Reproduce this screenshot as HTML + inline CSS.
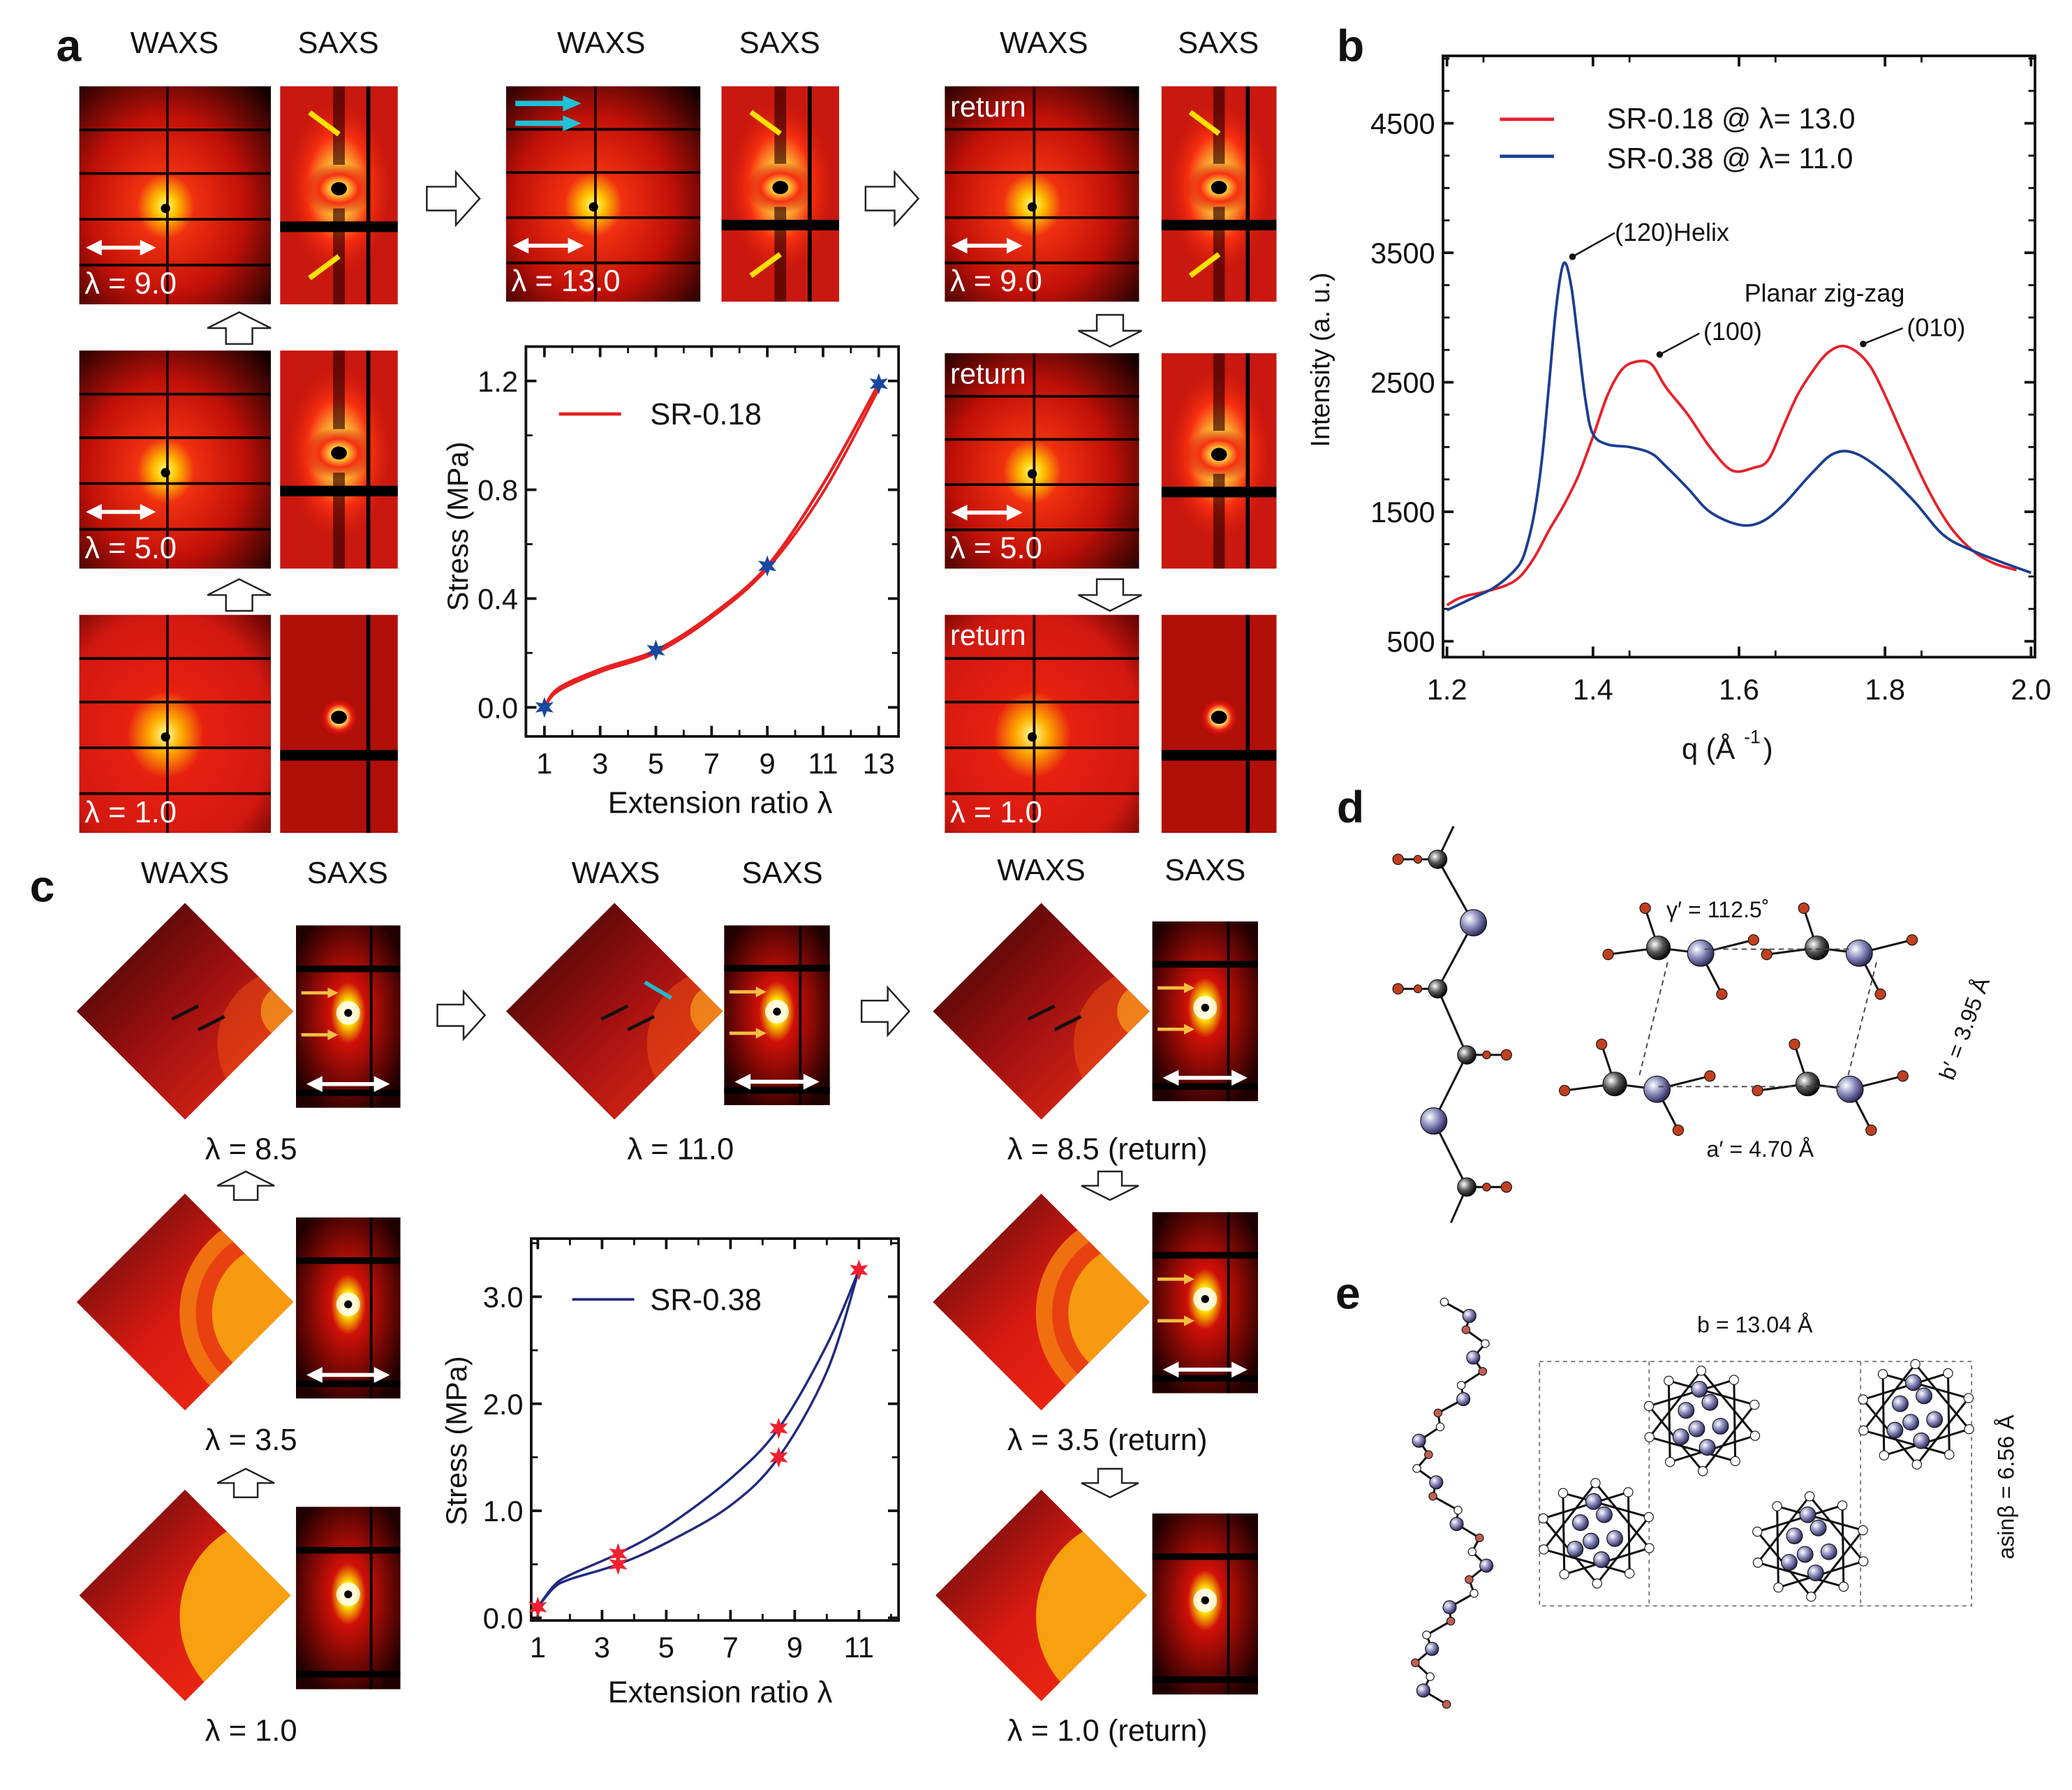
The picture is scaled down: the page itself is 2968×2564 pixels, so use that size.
<!DOCTYPE html>
<html><head><meta charset="utf-8"><style>
html,body{margin:0;padding:0;background:#fff}
svg{display:block}
text{font-family:"Liberation Sans","DejaVu Sans",sans-serif}
</style></head><body>
<svg id="fig" xmlns="http://www.w3.org/2000/svg" width="2968" height="2564" viewBox="0 0 1568 1354">
<defs>
<radialGradient id="gW" cx="0.45" cy="0.55" r="0.75"><stop offset="0" stop-color="#ffff80"/><stop offset="0.08" stop-color="#ffc000"/><stop offset="0.2" stop-color="#f03010"/><stop offset="0.55" stop-color="#c01008"/><stop offset="1" stop-color="#100000"/></radialGradient>
<radialGradient id="gW1" cx="0.45" cy="0.55" r="0.8"><stop offset="0" stop-color="#ffffa0"/><stop offset="0.1" stop-color="#ffb000"/><stop offset="0.25" stop-color="#e82010"/><stop offset="0.7" stop-color="#d01810"/><stop offset="1" stop-color="#500000"/></radialGradient>
<radialGradient id="gS" cx="0.5" cy="0.5" r="0.5"><stop offset="0" stop-color="#ffffd0"/><stop offset="0.2" stop-color="#ffe040"/><stop offset="0.55" stop-color="#f83010"/><stop offset="1" stop-color="#c01008" stop-opacity="0"/></radialGradient>
<radialGradient id="gS1" cx="0.5" cy="0.5" r="0.5"><stop offset="0" stop-color="#fff"/><stop offset="0.35" stop-color="#ffe060"/><stop offset="0.6" stop-color="#f02010"/><stop offset="1" stop-color="#a00000" stop-opacity="0"/></radialGradient>
<linearGradient id="gD" x1="0" y1="0" x2="1" y2="1"><stop offset="0" stop-color="#2a0404"/><stop offset="0.5" stop-color="#a01010"/><stop offset="1" stop-color="#f03018"/></linearGradient>
<linearGradient id="gD1" x1="0" y1="0" x2="1" y2="1"><stop offset="0" stop-color="#4a0808"/><stop offset="0.5" stop-color="#d81a12"/><stop offset="1" stop-color="#f83010"/></linearGradient>
<radialGradient id="gSaxs" cx="0.5" cy="0.48" r="0.6"><stop offset="0" stop-color="#ffffff"/><stop offset="0.12" stop-color="#ffe000"/><stop offset="0.28" stop-color="#d01008"/><stop offset="1" stop-color="#200000"/></radialGradient>
<radialGradient id="gAtomB" cx="0.35" cy="0.35" r="0.7"><stop offset="0" stop-color="#fff"/><stop offset="0.5" stop-color="#8888bb"/><stop offset="1" stop-color="#202050"/></radialGradient>
<radialGradient id="gAtomK" cx="0.35" cy="0.35" r="0.7"><stop offset="0" stop-color="#fff"/><stop offset="0.5" stop-color="#555"/><stop offset="1" stop-color="#000"/></radialGradient>
</defs>
<g id="panels"></g>
<g id="chartA"></g>
<g id="chartC"></g>
<g id="chartB"></g>
<g id="mol"></g>
</svg>
<script>
// ---- Chart a data ----
const aLoadX=[1,1.5,3,5,7,9,11,13];
const aLoadY=[0,0.07,0.14,0.21,0.34,0.52,0.82,1.19];
const aRetX=[13,11,9,7,5,3,1.5,1];
const aRetY=[1.17,0.79,0.51,0.33,0.2,0.13,0.06,0];
const aMarkX=[1,5,9,13];
const aMarkY=[0,0.21,0.52,1.19];
const aXTicks=[1,3,5,7,9,11,13];
const aYTicks=[0,0.4,0.8,1.2];
const aYLabels=["0.0","0.4","0.8","1.2"];
// ---- Chart c data ----
const cUpX=[1,1.5,2,3.5,5,7,8.5,10,11];
const cUpY=[0.1,0.3,0.4,0.6,0.85,1.3,1.77,2.55,3.25];
const cLoX=[11,10,8.5,7,5,3.5,2,1.5,1];
const cLoY=[3.25,2.3,1.5,1.05,0.7,0.5,0.36,0.28,0.1];
const cMarkX=[1,3.5,3.5,8.5,8.5,11];
const cMarkY=[0.1,0.6,0.5,1.77,1.5,3.25];
const cXTicks=[1,3,5,7,9,11];
const cYTicks=[0,1,2,3];
const cYLabels=["0.0","1.0","2.0","3.0"];
// ---- Chart b data ----
const bRedQ=[1.2,1.22,1.25,1.28,1.3,1.32,1.34,1.36,1.38,1.4,1.42,1.44,1.46,1.48,1.5,1.53,1.56,1.59,1.62,1.64,1.66,1.68,1.7,1.72,1.74,1.76,1.78,1.8,1.83,1.86,1.89,1.92,1.95,1.98];
const bRedI=[780,840,880,930,1000,1150,1360,1550,1780,2080,2400,2600,2660,2640,2460,2250,2000,1820,1840,1900,2150,2400,2580,2720,2780,2740,2620,2400,2020,1660,1380,1200,1100,1050];
const bBlueQ=[1.2,1.23,1.26,1.28,1.3,1.31,1.32,1.33,1.34,1.35,1.36,1.37,1.38,1.39,1.4,1.42,1.45,1.48,1.5,1.53,1.56,1.6,1.63,1.66,1.7,1.73,1.76,1.8,1.84,1.88,1.92,1.96,2.0];
const bBlueI=[740,820,900,980,1100,1250,1500,1900,2500,3100,3420,3250,2800,2350,2100,2020,2000,1950,1850,1680,1500,1400,1420,1550,1800,1950,1950,1800,1580,1320,1200,1110,1030];
const bXTicks=[1.2,1.4,1.6,1.8,2.0];
const bXLabels=["1.2","1.4","1.6","1.8","2.0"];
const bYTicks=[500,1500,2500,3500,4500];

const NS="http://www.w3.org/2000/svg";
function el(tag,attrs,parent,txt){const e=document.createElementNS(NS,tag);for(const k in attrs)e.setAttribute(k,attrs[k]);if(txt!==undefined)e.textContent=txt;parent.appendChild(e);return e;}
const P=document.getElementById('panels');

function txt(x,y,s,size,parent,name,anchor,weight,fill){const t=el('text',{x:x,y:y,'font-size':size,'text-anchor':anchor||'middle','font-weight':weight||'normal',fill:fill||'#111'},parent,s);

return t;}

txt(52,46,'a',34,P,'panel-label-a','middle','bold');
txt(1022,46,'b',34,P,'panel-label-b','middle','bold');
txt(32,682,'c',34,P,'panel-label-c','middle','bold');
txt(1022,622,'d',34,P,'panel-label-d','middle','bold');
txt(1020,990,'e',34,P,'panel-label-e','middle','bold');

[[132,40,'WAXS'],[256,40,'SAXS'],[455,40,'WAXS'],[590,40,'SAXS'],[790,40,'WAXS'],[922,40,'SAXS'],
 [140,668,'WAXS'],[263,668,'SAXS'],[466,668,'WAXS'],[592,668,'SAXS'],[788,666,'WAXS'],[912,666,'SAXS']].forEach(h=>{txt(h[0],h[1],h[2],23,P,'column-header');});

function arrowLR(g,x1,x2,y,color){el('line',{x1:x1+8,y1:y,x2:x2-8,y2:y,stroke:color,'stroke-width':3},g);
el('polygon',{points:`${x1},${y} ${x1+12},${y-6} ${x1+12},${y+6}`,fill:color},g);
el('polygon',{points:`${x2},${y} ${x2-12},${y-6} ${x2-12},${y+6}`,fill:color},g);}

function waxs(x,y,w,h,label,ret,faint){const g=el('g',{},P);


el('rect',{x:x,y:y,width:w,height:h,fill:faint?'url(#gW1)':'url(#gW)'},g);
[0.2,0.4,0.61,0.82].forEach(f=>el('line',{x1:x,x2:x+w,y1:y+h*f,y2:y+h*f,stroke:'#000','stroke-width':2},g));
el('line',{x1:x+w*0.46,x2:x+w*0.46,y1:y,y2:y+h,stroke:'#200','stroke-width':2},g);
el('circle',{cx:x+w*0.45,cy:y+h*0.56,r:3.5,fill:'#000'},g);
if(!faint)arrowLR(g,x+5,x+w*0.4,y+h*0.74,'#fff');
txt(x+4,y+h-8,label,23,g,'lambda-label','start','normal','#fff');
if(ret)txt(x+4,y+23,'return',22,g,'return-label','start','normal','#fff');}

function saxs(x,y,w,h,kind){const g=el('g',{},P);


el('rect',{x:x,y:y,width:w,height:h,fill:kind===2?'#b01008':'#c81810'},g);
if(kind!==2){el('ellipse',{cx:x+w*0.5,cy:y+h*0.47,rx:w*0.5,ry:h*0.45,fill:'url(#gS)'},g);
el('ellipse',{cx:x+w*0.5,cy:y+h*0.47,rx:w*0.3,ry:h*0.12,fill:'url(#gS)'},g);
el('rect',{x:x+w*0.45,y:y,width:w*0.1,height:h*0.36,fill:'#300',opacity:0.65},g);
el('rect',{x:x+w*0.45,y:y+h*0.56,width:w*0.1,height:h*0.44,fill:'#300',opacity:0.65},g);}
else el('circle',{cx:x+w*0.5,cy:y+h*0.47,r:16,fill:'url(#gS1)'},g);
el('line',{x1:x+w*0.75,x2:x+w*0.75,y1:y,y2:y+h,stroke:'#000','stroke-width':3},g);
el('rect',{x:x,y:y+h*0.62,width:w,height:8,fill:'#000'},g);
el('ellipse',{cx:x+w*0.5,cy:y+h*0.47,rx:6,ry:5,fill:'#000'},g);
if(kind===1){[[0.25,0.12,0.5,0.22],[0.25,0.88,0.5,0.78]].forEach(a=>{el('line',{x1:x+w*a[0],y1:y+h*a[1],x2:x+w*a[2],y2:y+h*a[3],stroke:'#ffe000','stroke-width':4},g);});}
}
waxs(60,65,145,165,'λ = 9.0');saxs(212,65,89,165,1);
waxs(60,265,145,165,'λ = 5.0');saxs(212,265,89,165,0);
waxs(60,465,145,165,'λ = 1.0',false,true);saxs(212,465,89,165,2);
waxs(383,65,147,163,'λ = 13.0');saxs(546,65,89,163,1);
waxs(715,65,147,163,'λ = 9.0',true);saxs(879,65,87,163,1);
waxs(715,267,147,163,'λ = 5.0',true);saxs(879,267,87,163,0);
waxs(715,465,147,165,'λ = 1.0',true,true);saxs(879,465,87,165,2);
[78,93].forEach(yy=>{el('line',{x1:390,y1:yy,x2:428,y2:yy,stroke:'#20c0d8','stroke-width':4},P);el('polygon',{points:`440,${yy} 426,${yy-6} 426,${yy+6}`,fill:'#20c0d8'},P);});

function bigArrow(x,y,dir,s){const g=el('g',{},P);


let pts;
if(dir==='r')pts=[[0,-9],[22,-9],[22,-20],[40,0],[22,20],[22,9],[0,9]];
if(dir==='u')pts=[[-10,12],[-10,0],[-24,0],[0,-12],[24,0],[10,0],[10,12]];
if(dir==='d')pts=[[-10,-12],[-10,0],[-24,0],[0,12],[24,0],[10,0],[10,-12]];
el('polygon',{points:pts.map(p=>(x+p[0]*s)+','+(y+p[1]*s)).join(' '),fill:'#fff',stroke:'#222','stroke-width':1.3},g);}
bigArrow(323,150,'r',1);bigArrow(655,150,'r',1);
bigArrow(181,248,'u',1);bigArrow(181,450,'u',1);
bigArrow(840,250,'d',1);bigArrow(840,450,'d',1);
bigArrow(331,768,'r',0.9);bigArrow(652,765,'r',0.9);
bigArrow(186,897,'u',0.9);bigArrow(186,1122,'u',0.9);
bigArrow(840,897,'d',0.9);bigArrow(840,1122,'d',0.9);

function diamond(cx,cy,r,kind,label){const g=el('g',{},P);


const id='cl'+cx+'_'+cy;const cp=el('clipPath',{id:id},g);
const pts=`${cx-r},${cy} ${cx},${cy-r} ${cx+r},${cy} ${cx},${cy+r}`;
el('polygon',{points:pts},cp);
el('polygon',{points:pts,fill:kind===0?'url(#gD)':'url(#gD1)'},g);
const gg=el('g',{'clip-path':`url(#${id})`},g);
if(kind===0){el('circle',{cx:cx+r,cy:cy+r*0.3,r:r*0.7,fill:'#f05010',opacity:0.5},gg);el('circle',{cx:cx+r*0.95,cy:cy,r:r*0.25,fill:'#f8a020',opacity:0.7},gg);}
if(kind===1){el('circle',{cx:cx+r*0.9,cy:cy+r*0.1,r:r*0.95,fill:'#f07010'},gg);el('circle',{cx:cx+r*0.9,cy:cy+r*0.1,r:r*0.8,fill:'#e84010'},gg);el('circle',{cx:cx+r*0.9,cy:cy+r*0.1,r:r*0.65,fill:'#f79a10'},gg);}
if(kind===2){el('circle',{cx:cx+r*0.9,cy:cy+r*0.2,r:r*0.95,fill:'#f8a010'},gg);}
if(label)txt(cx+50,cy+r+30,label,23,P,'diamond-label');
if(kind===0){[[cx-10,cy+6],[cx+10,cy+14]].forEach(a=>{el('line',{x1:a[0],y1:a[1],x2:a[0]+20,y2:a[1]-10,stroke:'#111','stroke-width':2.5},g);});}
}
diamond(140,765,82,0,'λ = 8.5');
diamond(465,765,82,0,'λ = 11.0');
diamond(788,765,82,0,'λ = 8.5 (return)');
diamond(140,985,82,1,'λ = 3.5');
diamond(788,985,82,1,'λ = 3.5 (return)');
diamond(140,1207,80,2,'λ = 1.0');
diamond(788,1207,80,2,'λ = 1.0 (return)');
el('line',{x1:488,y1:743,x2:508,y2:755,stroke:'#20b8d0','stroke-width':3},P);

function saxsC(x,y,w,h,arrows,hor){const g=el('g',{},P);


el('rect',{x:x,y:y,width:w,height:h,fill:'url(#gSaxs)'},g);
el('rect',{x:x,y:y+h*0.22,width:w,height:5,fill:'#000'},g);
el('rect',{x:x,y:y+h*0.9,width:w,height:5,fill:'#000'},g);
el('line',{x1:x+w*0.72,x2:x+w*0.72,y1:y,y2:y+h,stroke:'#000','stroke-width':2},g);
el('circle',{cx:x+w*0.5,cy:y+h*0.48,r:9,fill:'#fff',opacity:0.8},g);
el('circle',{cx:x+w*0.5,cy:y+h*0.48,r:3,fill:'#000'},g);
if(arrows){[0.37,0.6].forEach(f=>{el('line',{x1:x+4,y1:y+h*f,x2:x+26,y2:y+h*f,stroke:'#f0c040','stroke-width':2.5},g);el('polygon',{points:`${x+32},${y+h*f} ${x+24},${y+h*f-4} ${x+24},${y+h*f+4}`,fill:'#f0c040'},g);});}
if(hor)arrowLR(g,x+8,x+w-8,y+h*0.87,'#fff');}
saxsC(224,700,79,138,true,true);saxsC(224,921,79,137,false,true);saxsC(224,1140,79,138,false,false);
saxsC(548,700,80,136,true,true);
saxsC(872,697,80,136,true,true);saxsC(872,917,80,137,true,true);saxsC(872,1145,80,137,false,false);

function lineChart(gid,box,xr,yr,xTicks,xLabels,yTicks,yLabels,opts){
const G=document.getElementById(gid);
const sx=v=>box.x0+(v-xr[0])/(xr[1]-xr[0])*(box.x1-box.x0);
const sy=v=>box.y0-(v-yr[0])/(yr[1]-yr[0])*(box.y0-box.y1);
const fr=el('rect',{x:box.L,y:box.T,width:box.R-box.L,height:box.B-box.T,fill:'none',stroke:'#111','stroke-width':2},G);


xTicks.forEach((t,i)=>{const X=sx(t);
el('line',{x1:X,x2:X,y1:box.B,y2:box.B-8,stroke:'#111','stroke-width':2},G);
el('line',{x1:X,x2:X,y1:box.T,y2:box.T+8,stroke:'#111','stroke-width':2},G);
txt(X,box.B+(opts.xlOff||28),xLabels[i],opts.fs,G,'x-tick-label');
if(opts.minorX){const X2=sx(t+opts.minorX);if(X2<box.R){el('line',{x1:X2,x2:X2,y1:box.B,y2:box.B-5,stroke:'#111','stroke-width':1.5},G);el('line',{x1:X2,x2:X2,y1:box.T,y2:box.T+5,stroke:'#111','stroke-width':1.5},G);}}});
yTicks.forEach((t,i)=>{const Y=sy(t);
el('line',{x1:box.L,x2:box.L+8,y1:Y,y2:Y,stroke:'#111','stroke-width':2},G);
el('line',{x1:box.R,x2:box.R-8,y1:Y,y2:Y,stroke:'#111','stroke-width':2},G);
txt(box.L-6,Y+8,yLabels[i],opts.fs,G,'y-tick-label','end');
if(opts.minorY){for(let k=1;k<opts.minorN;k++){const Y2=sy(t+opts.minorY*k);if(Y2>box.T){el('line',{x1:box.L,x2:box.L+5,y1:Y2,y2:Y2,stroke:'#111','stroke-width':1.5},G);el('line',{x1:box.R,x2:box.R-5,y1:Y2,y2:Y2,stroke:'#111','stroke-width':1.5},G);}}}});
return {G,sx,sy};}
function path(ch,xs,ys,color,w,name){const p0=xs.map((v,i)=>[ch.sx(v),ch.sy(ys[i])]);
let d='M'+p0[0][0].toFixed(1)+','+p0[0][1].toFixed(1);
for(let i=0;i<p0.length-1;i++){const a=p0[Math.max(i-1,0)],b=p0[i],c=p0[i+1],e=p0[Math.min(i+2,p0.length-1)];
const c1=[b[0]+(c[0]-a[0])/6,b[1]+(c[1]-a[1])/6],c2=[c[0]-(e[0]-b[0])/6,c[1]-(e[1]-b[1])/6];
d+='C'+c1[0].toFixed(1)+','+c1[1].toFixed(1)+' '+c2[0].toFixed(1)+','+c2[1].toFixed(1)+' '+c[0].toFixed(1)+','+c[1].toFixed(1);}
const p=el('path',{d:d,fill:'none',stroke:color,'stroke-width':w,'stroke-linejoin':'round'},ch.G);

}
function star(ch,x,y,color){const X=ch.sx(x),Y=ch.sy(y);let pts=[];for(let k=0;k<12;k++){const r=k%2?3.5:8;const a=Math.PI/6*k-Math.PI/2;pts.push((X+r*Math.cos(a)).toFixed(1)+','+(Y+r*Math.sin(a)).toFixed(1));}
const s=el('polygon',{points:pts.join(' '),fill:color},ch.G);

}

const A=lineChart('chartA',{L:398,R:680,T:262,B:557,x0:412,x1:665,y0:535,y1:288},[1,13],[0,1.2],aXTicks,aXTicks.map(String),aYTicks,aYLabels,{fs:22,minorY:0.2,minorN:2,minorX:1});
path(A,aLoadX,aLoadY,'#e82020',2.2,'loading-curve');
path(A,aRetX,aRetY,'#e82020',2,'unloading-curve');
aMarkX.forEach((x,i)=>star(A,x,aMarkY[i],'#1848a0'));
el('line',{x1:423,x2:470,y1:313,y2:313,stroke:'#e82020','stroke-width':2.5},A.G);
txt(492,321,'SR-0.18',23,A.G,'legend-label','start');
const ta=txt(0,0,'Stress (MPa)',22,A.G,'y-axis-title');ta.setAttribute('transform','translate(354,398) rotate(-90)');
txt(545,615,'Extension ratio λ',23,A.G,'x-axis-title');

const C=lineChart('chartC',{L:402,R:680,T:937,B:1226,x0:407,x1:650,y0:1224,y1:981},[1,11],[0,3],cXTicks,cXTicks.map(String),cYTicks,cYLabels,{fs:22,minorY:0.5,minorN:2,minorX:1});
path(C,cUpX,cUpY,'#202a80',1.8,'loading-curve');
path(C,cLoX,cLoY,'#202a80',1.8,'unloading-curve');
cMarkX.forEach((x,i)=>star(C,x,cMarkY[i],'#f02030'));
el('line',{x1:433,x2:480,y1:983,y2:983,stroke:'#202a80','stroke-width':2},C.G);
txt(492,991,'SR-0.38',23,C.G,'legend-label','start');
const tc=txt(0,0,'Stress (MPa)',22,C.G,'y-axis-title');tc.setAttribute('transform','translate(353,1090) rotate(-90)');
txt(545,1288,'Extension ratio λ',23,C.G,'x-axis-title');

const B=lineChart('chartB',{L:1092,R:1540,T:42,B:497,x0:1095,x1:1537,y0:485,y1:93},[1.2,2.0],[500,4500],bXTicks,bXLabels,bYTicks,bYTicks.map(String),{fs:22,xlOff:32,minorY:250,minorN:4,minorX:0.05});
path(B,bRedQ,bRedI,'#e8202a',2,'sr018-curve');
path(B,bBlueQ,bBlueI,'#1a3e90',2,'sr038-curve');
el('line',{x1:1135,x2:1176,y1:90,y2:90,stroke:'#e8202a','stroke-width':2.5},B.G);
el('line',{x1:1135,x2:1176,y1:118,y2:118,stroke:'#1a3e90','stroke-width':2.5},B.G);
txt(1216,97,'SR-0.18  @ λ= 13.0',22,B.G,'legend-label','start');
txt(1216,127,'SR-0.38  @ λ= 11.0',22,B.G,'legend-label','start');
txt(1222,182,'(120)Helix',19,B.G,'annotation','start');
txt(1320,228,'Planar zig-zag',19,B.G,'annotation','start');
txt(1289,257,'(100)',19,B.G,'annotation','start');
txt(1443,254,'(010)',19,B.G,'annotation','start');
[[1222,176,1190,194],[1286,252,1256,268],[1440,248,1410,260]].forEach(a=>{el('line',{x1:a[0],y1:a[1],x2:a[2],y2:a[3],stroke:'#111','stroke-width':1.3},B.G);el('circle',{cx:a[2],cy:a[3],r:2.5,fill:'#111'},B.G);});
const tb=txt(0,0,'Intensity (a. u.)',20,B.G,'y-axis-title');tb.setAttribute('transform','translate(1006,272) rotate(-90)');
txt(1313,574,'q (Å',22,B.G,'x-axis-title','end');txt(1326,562,'-1',14,B.G,'x-axis-exponent');txt(1338,574,')',22,B.G,'x-axis-paren');

const M=document.getElementById('mol');
function atom(x,y,r,f){el('circle',{cx:x,cy:y,r:r,fill:f,stroke:'#111','stroke-width':0.6},M);}
function bond(a,b,c,d){el('line',{x1:a,y1:b,x2:c,y2:d,stroke:'#111','stroke-width':1.6},M);}
const dch=[[1100,625],[1088,650],[1115,698],[1088,748],[1110,798],[1085,848],[1110,898],[1098,925]];
for(let i=0;i<dch.length-1;i++)bond(dch[i][0],dch[i][1],dch[i+1][0],dch[i+1][1]);
[[1088,650,-1],[1088,748,-1],[1110,798,1],[1110,898,1]].forEach(p=>{bond(p[0],p[1],p[0]+30*p[2],p[1]);atom(p[0]+30*p[2],p[1],4,'#c04020');atom(p[0]+15*p[2],p[1],3,'#c04020');atom(p[0],p[1],7,'url(#gAtomK)');});
[[1115,698],[1085,848]].forEach(p=>atom(p[0],p[1],10,'url(#gAtomB)'));
[[1255,717],[1375,717],[1222,820],[1368,820]].forEach(p=>{const [x,y]=p;
bond(x,y,x-38,y+5);bond(x,y,x-10,y-30);bond(x,y,x+32,y+4);bond(x+32,y+4,x+72,y-6);bond(x+32,y+4,x+48,y+35);
atom(x-38,y+5,4,'#c04020');atom(x-10,y-30,4,'#c04020');atom(x+72,y-6,4,'#c04020');atom(x+48,y+35,4,'#c04020');
atom(x,y,9,'url(#gAtomK)');atom(x+32,y+4,10,'url(#gAtomB)');});
el('path',{d:'M1290,718 L1400,718 M1255,822 L1395,822 M1262,728 L1240,816 M1420,728 L1398,816',stroke:'#444','stroke-width':1,'stroke-dasharray':'4,3',fill:'none'},M);
txt(1300,694,'γ′ = 112.5˚',17,M,'gamma-label');
txt(1332,875,'a′ = 4.70 Å',17,M,'a-label');
const tbp=txt(0,0,"b′ = 3.95 Å",17,M,'b-label');tbp.setAttribute('transform','translate(1492,780) rotate(-70)');
for(let i=0;i<30;i++){const y=985+i*10.5;const x=1098+22*Math.sin(i*0.42)+(i%2?5:-5);const x2=1098+22*Math.sin((i+1)*0.42)+((i+1)%2?5:-5);if(i<29)bond(x,y,x2,y+10.5);atom(x,y,i%3===1?5:3,i%3===1?'url(#gAtomB)':(i%3===0?'#fff':'#c06050'));}
el('rect',{x:1165,y:1030,width:327,height:185,fill:'none',stroke:'#777','stroke-width':1,'stroke-dasharray':'3,3'},M);
el('path',{d:'M1248,1030 V1215 M1408,1030 V1215',stroke:'#777','stroke-width':1,'stroke-dasharray':'3,3'},M);
[[1208,1160],[1288,1075],[1370,1170],[1450,1070]].forEach(c=>{const [x,y]=c;
const ring=[];for(let k=0;k<10;k++){const a=k/10*2*Math.PI+0.3;ring.push([x+42*Math.cos(a),y+38*Math.sin(a)]);}
for(let k=0;k<10;k++){bond(ring[k][0],ring[k][1],ring[(k+3)%10][0],ring[(k+3)%10][1]);}
ring.forEach(p=>atom(p[0],p[1],3.5,'#fff'));
[[-12,-8],[6,-14],[-4,6],[14,4],[-16,12],[4,20],[-2,-24]].forEach(o=>atom(x+o[0],y+o[1],6,'url(#gAtomB)'));});
txt(1328,1008,'b = 13.04 Å',17,M,'b-cell-label');
const tas=txt(0,0,'asinβ = 6.56 Å',17,M,'asinb-label');tas.setAttribute('transform','translate(1524,1125) rotate(-90)');
</script>
</body></html>
